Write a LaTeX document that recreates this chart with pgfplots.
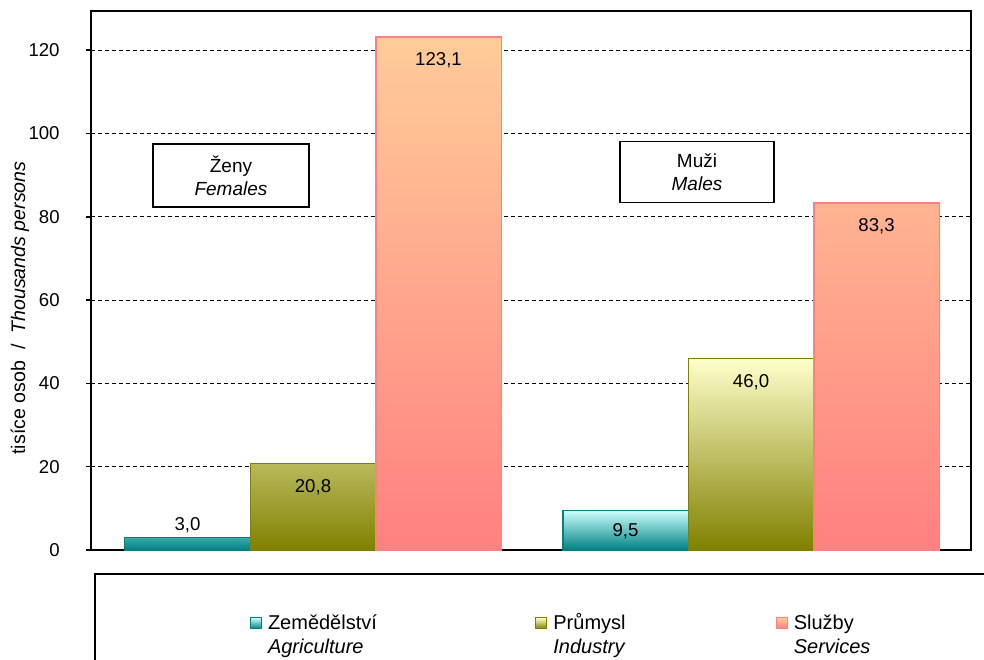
\documentclass[border=0pt]{standalone}
\usepackage{fontspec}
\setmainfont{Liberation Sans}
\usepackage{pgfplots}
\pgfplotsset{compat=1.18}
\definecolor{agTop}{HTML}{CCFFFF}
\definecolor{agBot}{HTML}{008080}
\definecolor{agLine}{HTML}{008080}
\definecolor{inTop}{HTML}{FFFFCC}
\definecolor{inBot}{HTML}{808000}
\definecolor{inLine}{HTML}{808000}
\definecolor{seTop}{HTML}{FFCC99}
\definecolor{seBot}{HTML}{FF8080}
\definecolor{seLine}{HTML}{FF8080}
\begin{document}
\begin{tikzpicture}
\path[use as bounding box] (-45.5pt,-54.5pt) rectangle (446.5pt,275pt);
\clip (-45.5pt,-54.5pt) rectangle (446.5pt,275pt);
\begin{axis}[
  at={(0pt,0pt)}, anchor=south west,
  scale only axis, width=440pt, height=269.5pt,
  xmin=0, xmax=880, ymin=0, ymax=129.4,
  xtick=\empty,
  ytick={0,20,40,60,80,100,120},
  ytick pos=left,
  tick align=outside,
  major tick length=2.5pt,
  tick style={black, line width=0.75pt},
  ymajorgrids,
  major grid style={black, line width=0.5pt, dash pattern=on 2pt off 1.5pt},
  axis line style={black, line width=1pt},
  /pgf/number format/assume math mode=true,
  yticklabel style={font=\fontsize{9.3}{10}\selectfont, inner sep=0pt, anchor=east, xshift=-13pt},
  ylabel={tisíce osob\ \ /\ \ \textit{Thousands persons}},
  ylabel style={at={(axis description cs:-0.0807,0.449)}, anchor=center, font=\fontsize{9.8}{11}\selectfont},
  bar width=125.5,
  legend columns=3,
  legend cell align=left,
  legend style={at={(axis cs:159,-14.3)}, anchor=north west, draw=none, fill=none, inner sep=0pt, outer sep=0pt,
    font=\fontsize{10}{12}\selectfont, cells={anchor=base west, inner sep=0pt},
    /tikz/every odd column/.style={column sep=1pt}},
  nodes near coords,
  point meta=explicit symbolic,
  visualization depends on={value \thisrow{dy}\as\dy},
  nodes near coords style={anchor=north, inner sep=0pt, text=black, yshift=\dy pt, font=\fontsize{9.3}{10}\selectfont},
]
\addplot[ybar, bar shift=0pt, draw=agLine, line width=0.75pt, top color=agTop, bottom color=agBot,
  legend image code/.code={\draw[draw=agLine, line width=0.5pt, top color=agTop, bottom color=agBot] (0pt,0.5pt) rectangle (5.5pt,6pt);}]
  table[x=x, y=y, meta=lab] {
x y lab dy
96.5 3.0 3,0 10.25
534.5 9.5 9,5 -6
};
\addlegendentry{\parbox[t]{131.7pt}{Zemědělství\\\textit{Agriculture}}}
\addplot[ybar, bar shift=0pt, draw=inLine, line width=0.75pt, top color=inTop, bottom color=inBot,
  legend image code/.code={\draw[draw=inLine, line width=0.5pt, top color=inTop, bottom color=inBot] (0pt,0.5pt) rectangle (5.5pt,6pt);}]
  table[x=x, y=y, meta=lab] {
x y lab dy
222 20.8 20,8 -7.5
660 46.0 46,0 -7.5
};
\addlegendentry{\parbox[t]{109.2pt}{Průmysl\\\textit{Industry}}}
\addplot[ybar, bar shift=0pt, draw=seLine, line width=0.75pt, top color=seTop, bottom color=seBot,
  legend image code/.code={\draw[draw=seLine, line width=0.5pt, top color=seTop, bottom color=seBot] (0pt,0.5pt) rectangle (5.5pt,6pt);}]
  table[x=x, y=y, meta=lab] {
x y lab dy
347.5 123.1 123,1 -7.5
785.5 83.3 83,3 -7.5
};
\addlegendentry{\parbox[t]{60pt}{Služby\\\textit{Services}}}
\node[draw=black, line width=0.75pt, fill=white, minimum width=78pt, minimum height=31.5pt, align=center,
  font=\fontsize{9.5}{11.5}\selectfont, inner sep=0pt] at (axis cs:140,89.9) {Ženy\\\textit{Females}};
\node[draw=black, line width=0.75pt, fill=white, minimum width=77pt, minimum height=30.5pt, align=center,
  font=\fontsize{9.5}{11.5}\selectfont, inner sep=0pt] at (axis cs:606,90.8) {Muži\\\textit{Males}};
\end{axis}
\draw[black, line width=1pt] (2pt,-12pt) rectangle (480pt,-90pt);
\end{tikzpicture}
\end{document}
